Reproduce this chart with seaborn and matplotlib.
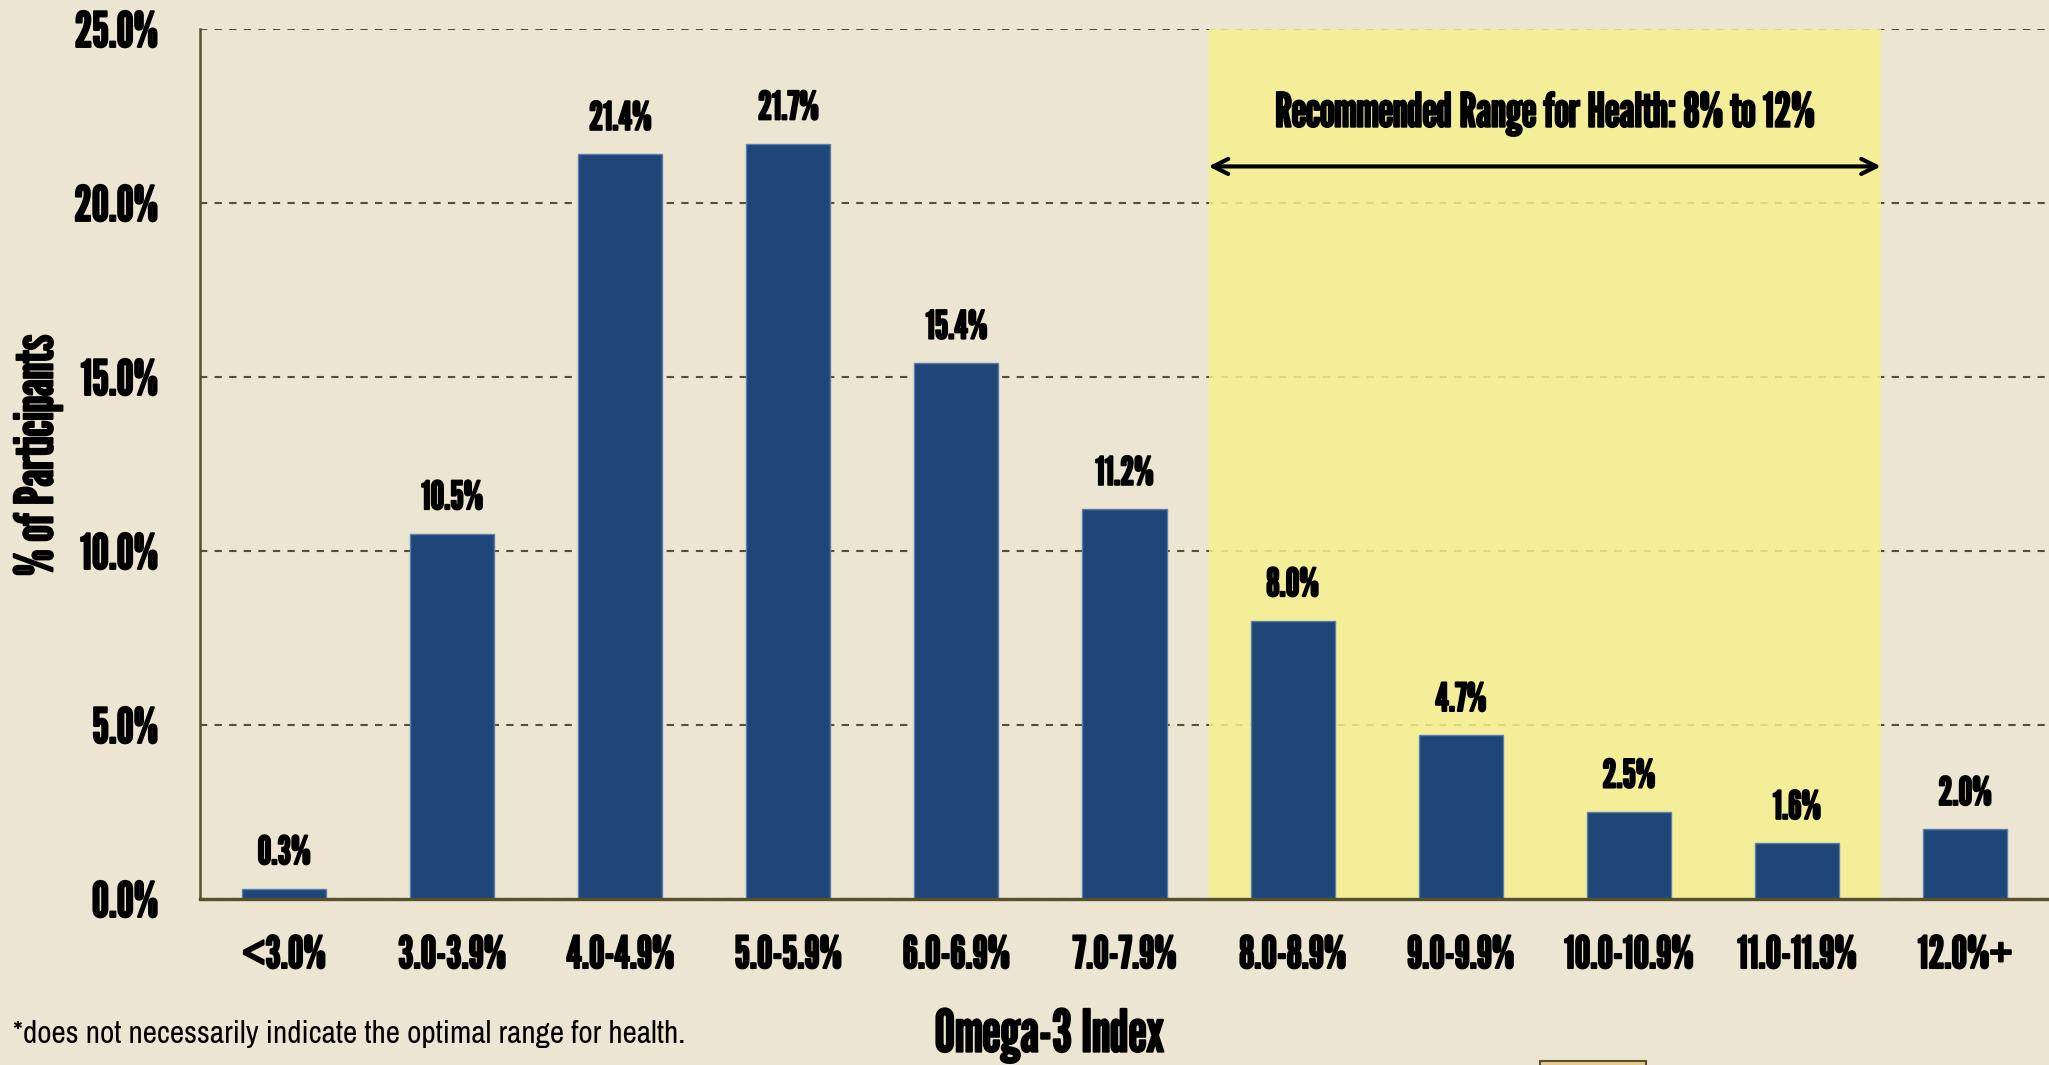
import matplotlib
matplotlib.use('Agg')
import matplotlib.pyplot as plt
import matplotlib.patheffects as pe
from matplotlib.patches import Rectangle
import seaborn as sns

# Omega-3 index distribution
categories = ['<3.0%', '3.0-3.9%', '4.0-4.9%', '5.0-5.9%', '6.0-6.9%', '7.0-7.9%',
              '8.0-8.9%', '9.0-9.9%', '10.0-10.9%', '11.0-11.9%', '12.0%+']
participants = [0.3, 10.5, 21.4, 21.7, 15.4, 11.2, 8.0, 4.7, 2.5, 1.6, 2.0]
y_ticks = [0, 5, 10, 15, 20, 25]
recommended = (6, 9)  # first and last category of the 8% to 12% range

BG = '#ECE5D1'
BAR = '#1F4679'
AXIS = '#55512F'
YELLOW = '#F7F08E'
bold = [pe.withStroke(linewidth=1.4, foreground='black')]


def draw_chart(ax):
    """
    Bars with their value labels, the shaded recommended range and the arrow
    """
    sns.barplot(x=categories, y=participants, color=BAR, saturation=1,
                width=0.5, edgecolor='#5B7EAF', linewidth=1, ax=ax, zorder=2)
    ax.axvspan(recommended[0] - 0.5, recommended[1] + 0.5, color=YELLOW,
               alpha=0.85, lw=0, zorder=0.6)
    for i, v in enumerate(participants):
        ax.text(i, v + 0.5, '%.1f%%' % v, ha='center', va='bottom',
                fontsize=28, path_effects=bold, zorder=3)
    ax.annotate('', xy=(recommended[1] + 0.5, 21.05),
                xytext=(recommended[0] - 0.5, 21.05),
                arrowprops=dict(arrowstyle='<->,head_length=0.9,head_width=0.45',
                                color='black', lw=3, shrinkA=0, shrinkB=0))
    ax.text((recommended[0] + recommended[1]) / 2, 22.55,
            'Recommended Range for Health: 8% to 12%', ha='center', va='center',
            fontsize=34, path_effects=bold, zorder=3)


def style_axes(ax):
    """
    Ticks, gridlines and spines in the olive colour of the original
    """
    ax.set_xlim(-0.5, 10.48)
    ax.set_ylim(0, 25)
    ax.set_yticks(y_ticks)
    ax.set_yticklabels(['%.1f%%' % t for t in y_ticks])
    ax.set_xticks(range(len(categories)))
    ax.set_xticklabels(categories)
    ax.set_xticks([i - 0.5 for i in range(len(categories) + 1)], minor=True)
    ax.tick_params(axis='x', which='major', length=0, pad=26, labelsize=32)
    ax.tick_params(axis='x', which='minor', length=17, width=1.5,
                   color=AXIS, direction='out')
    ax.tick_params(axis='y', length=10, width=1.5, color=AXIS, pad=20,
                   labelsize=35)
    for lab in ax.get_xticklabels() + ax.get_yticklabels():
        lab.set_path_effects(bold)
    ax.set_axisbelow(True)
    ax.yaxis.grid(True, linestyle=(0, (3.5, 3.5)), color=AXIS, linewidth=1.5)
    ax.xaxis.grid(False)
    for side in ('top', 'right'):
        ax.spines[side].set_visible(False)
    ax.spines['left'].set_color(AXIS)
    ax.spines['left'].set_linewidth(1.8)
    ax.spines['bottom'].set_color(AXIS)
    ax.spines['bottom'].set_linewidth(2.4)
    ax.set_xlabel('')
    ax.set_ylabel('')


def main():
    sns.set_theme(style='white', rc={'axes.facecolor': BG, 'figure.facecolor': BG,
                                     'text.color': 'black',
                                     'xtick.color': 'black', 'ytick.color': 'black'})
    plt.rcParams['font.family'] = ['League Gothic', 'DejaVu Sans']

    fig = plt.figure(figsize=(20.49, 10.65), dpi=100)
    ax = fig.add_axes([0.0976, 0.1559, 0.9024, 0.8169])
    draw_chart(ax)
    style_axes(ax)

    fig.text(0.0188, 0.5728, '% of Participants', rotation=90, ha='center',
             va='center', fontsize=38, path_effects=bold)
    fig.text(0.512, 0.028, 'Omega-3 Index', ha='center', va='center',
             fontsize=42, path_effects=bold)
    fig.text(0.0063, 0.029, '*does not necessarily indicate the optimal range for health.',
             ha='left', va='center', fontsize=22.5, family=['Archivo Narrow', 'DejaVu Sans'])
    # small tan box cut off at the bottom edge of the original image
    fig.patches.append(Rectangle((0.7516, -0.01), 0.0517, 0.0138,
                                 transform=fig.transFigure, facecolor='#E8C98A',
                                 edgecolor=AXIS, lw=1.5))
    fig.savefig('out.png', dpi=100, facecolor=BG)


if __name__ == '__main__':
    main()
